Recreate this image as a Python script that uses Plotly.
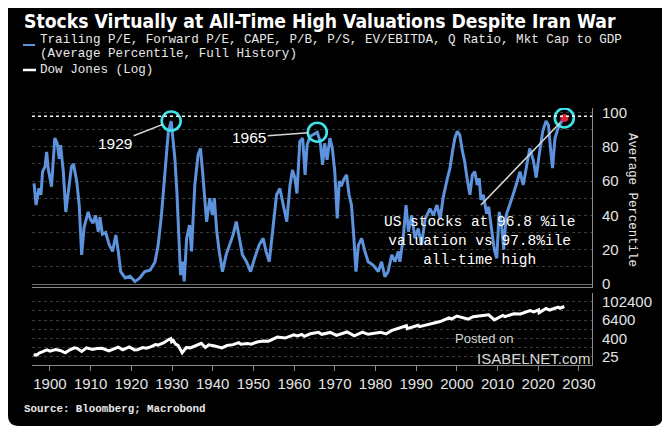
import plotly.graph_objects as go

# composite valuation: average percentile of 8 metrics over full history
pct_years = [1896.1, 1896.6, 1897.3, 1897.8, 1898.2, 1898.8, 1899.2, 1899.6, 1900.4, 1901.2,
             1901.8, 1902.3, 1902.6, 1903.3, 1903.9, 1904.5, 1905.3, 1905.8, 1906.6, 1907.2,
             1907.8, 1908.4, 1909.4, 1910.0, 1910.6, 1911.2, 1911.9, 1912.3, 1912.9, 1913.7,
             1914.6, 1915.4, 1916.2, 1916.8, 1917.4, 1918.5, 1919.7, 1920.9, 1922.1, 1923.3,
             1924.6, 1925.8, 1926.6, 1927.4, 1928.3, 1929.1, 1929.8, 1930.3, 1930.7, 1931.2,
             1931.5, 1932.1, 1932.6, 1933.0, 1933.6, 1934.3, 1934.8, 1935.6, 1936.4, 1937.0,
             1937.6, 1938.5, 1939.3, 1939.9, 1940.4, 1941.0, 1941.6, 1942.4, 1943.3, 1944.1,
             1945.0, 1945.8, 1946.5, 1947.3, 1948.3, 1949.3, 1950.3, 1951.4, 1952.4, 1953.1,
             1953.9, 1954.9, 1955.7, 1956.5, 1957.4, 1958.2, 1959.0, 1959.6, 1960.2, 1960.7,
             1961.4, 1962.1, 1962.7, 1963.2, 1963.9, 1964.7, 1965.7, 1966.4, 1967.0, 1967.5,
             1968.1, 1968.8, 1969.4, 1970.0, 1970.6, 1971.1, 1971.6, 1972.2, 1972.9, 1973.5,
             1974.1, 1974.7, 1975.2, 1975.8, 1976.6, 1977.4, 1978.2, 1979.4, 1980.7, 1981.5,
             1982.3, 1983.1, 1984.0, 1984.8, 1985.6, 1986.0, 1986.8, 1987.5, 1988.1, 1988.9,
             1989.7, 1990.5, 1991.3, 1992.2, 1993.4, 1994.2, 1995.1, 1995.9, 1996.6, 1997.5,
             1998.3, 1998.9, 1999.5, 2000.1, 2000.7, 2001.4, 2001.9, 2002.5, 2003.2, 2003.8,
             2004.4, 2005.0, 2005.5, 2005.9, 2006.5, 2007.3, 2007.8, 2008.4, 2008.9, 2009.2,
             2009.8, 2010.4, 2010.9, 2011.5, 2012.1, 2013.0, 2013.8, 2014.6, 2015.5, 2016.3,
             2017.1, 2017.9, 2018.8, 2019.5, 2020.2, 2021.1, 2021.9, 2022.5, 2023.0, 2023.5,
             2024.1, 2024.9, 2025.5, 2026.4]
pct_values = [58.7, 46, 55.8, 52, 65.5, 68.4, 77, 67, 56.7, 85,
              82, 73, 81, 65.5, 42, 52, 68.4, 70, 59.7, 46,
              17, 33, 42, 37.5, 35.5, 40, 30.5, 39, 29, 30,
              22.7, 19, 28.6, 19, 7.2, 3.5, 4.5, 1.4, 3.5, 7.2,
              8, 12.7, 22.7, 40, 65.5, 88.8, 95, 84.5, 73.3, 53.8,
              36.3, 5.2, 13, 1.5, 26.6, 34.4, 19, 57.7, 75.2, 79,
              63, 36.3, 50, 40.4, 50, 30.5, 19, 7.2, 17, 22.7,
              28.6, 36.4, 26.6, 17, 13, 7.2, 15, 22.7, 26.6, 19,
              13, 36.3, 52, 55.7, 46, 36.3, 57.7, 66.5, 61.6, 52.8,
              83, 85, 63.6, 81, 86, 86.9, 88.5, 83, 69.4, 82,
              72.4, 85, 79, 65.5, 38.3, 60, 57, 61, 63.6, 52,
              46, 26.6, 7.2, 22.7, 26.6, 19, 13, 11, 7.2, 13,
              4.3, 7.2, 17, 13, 19, 13, 26.6, 46, 30.5, 40,
              26.6, 32.4, 22.7, 38, 44, 40, 46, 38, 50, 60,
              67.5, 77, 85, 89, 87, 77, 71.5, 61.6, 52, 63.6,
              65.5, 57.7, 61.6, 49, 52, 41, 45, 34, 25.7, 20,
              15, 42, 36, 20, 40, 46, 52, 58, 65.5, 57.7,
              69, 79, 72, 62, 75, 89, 95, 92.7, 79, 67.5,
              85, 91, 94, 96.8]

# Dow Jones Industrial Average (log scale panel)
dow_years = [1896.0, 1896.7, 1897.5, 1898.5, 1899.3, 1900.0, 1900.8, 1901.4, 1902.5, 1903.8,
             1904.8, 1906.0, 1906.7, 1907.8, 1909.0, 1910.5, 1911.5, 1912.8, 1914.5, 1915.5,
             1916.8, 1917.9, 1919.5, 1920.8, 1921.5, 1922.8, 1923.7, 1924.9, 1925.9, 1926.5,
             1927.9, 1928.9, 1929.7, 1929.9, 1930.3, 1930.9, 1931.5, 1932.5, 1933.5, 1934.5,
             1935.9, 1937.2, 1938.2, 1939.0, 1940.5, 1942.3, 1943.5, 1945.0, 1946.4, 1946.9,
             1948.5, 1949.5, 1950.9, 1952.5, 1953.7, 1955.9, 1957.8, 1959.9, 1960.8, 1961.9,
             1962.5, 1964.0, 1966.0, 1966.8, 1968.9, 1970.4, 1973.0, 1974.8, 1976.8, 1978.2,
             1981.3, 1982.6, 1983.9, 1987.6, 1987.8, 1990.5, 1990.8, 1993.0, 1995.9, 1998.0,
             1998.7, 2000.0, 2001.7, 2002.8, 2004.0, 2007.8, 2009.2, 2010.5, 2011.3, 2011.8,
             2014.0, 2015.6, 2018.0, 2018.9, 2020.1, 2020.2, 2021.9, 2022.8, 2024.0, 2024.9,
             2025.3, 2026.4]
dow_values = [34, 32, 45, 55, 70, 58, 68, 75, 64, 45,
              68, 96, 88, 55, 95, 75, 85, 90, 60, 80,
              105, 70, 110, 70, 72, 100, 90, 115, 155, 145,
              200, 300, 381, 240, 290, 165, 140, 45, 100, 95,
              145, 190, 100, 150, 125, 95, 135, 155, 210, 165,
              185, 165, 230, 270, 260, 485, 420, 680, 570, 730,
              540, 800, 990, 740, 980, 630, 1050, 580, 1010, 740,
              1000, 780, 1280, 2700, 1740, 2900, 2370, 3400, 5100, 9000,
              7500, 11700, 8300, 7300, 10500, 14150, 6550, 10000, 12800, 10650,
              16500, 16000, 26600, 22000, 29500, 19000, 36500, 29000, 38000, 45000,
              38000, 49500]

circle_years = [1929.8, 1965.7, 2026.4]
current_pct = 96.8
ath_pct = 97.8

pct_ticks = [0, 20, 40, 60, 80, 100]
pct_minor = [10, 30, 50, 70, 90]
dow_ticks = [25, 400, 6400, 102400]
dow_minor = [100, 1600, 25600]
year_ticks = [1900, 1910, 1920, 1930, 1940, 1950, 1960, 1970, 1980, 1990, 2000, 2010, 2020, 2030]

# the page adds an 8px white margin round the figure, so layout is planned in page pixels
OFF = 8
W, H = 662, 424
L, R, T, B = 24, 78, 100, 67
PW, PH = W - L - R, H - T - B


def px(x):
    return (x - OFF - L) / PW


def py(y):
    return (H - B - (y - OFF)) / PH


circle_vals = [pct_values[pct_years.index(y)] for y in circle_years]

GRID = '#3a3a3a'
AXIS = '#8a8a8a'
TICKC = '#e4e4e4'
BLUE = '#5d92dc'
MONO = 'Liberation Mono, DejaVu Sans Mono, monospace'
SANS = 'Liberation Sans, Arial, sans-serif'

fig = go.Figure()
fig.add_trace(go.Scatter(x=pct_years, y=pct_values, mode='lines',
                         line=dict(color=BLUE, width=3),
                         xaxis='x2', yaxis='y', showlegend=False))
fig.add_trace(go.Scatter(x=dow_years, y=dow_values, mode='lines',
                         line=dict(color='white', width=3),
                         xaxis='x', yaxis='y2', showlegend=False))
fig.add_trace(go.Scatter(x=[pct_years[-1]], y=[pct_values[-1]], mode='markers',
                         marker=dict(color='#d8263a', size=8),
                         xaxis='x2', yaxis='y', showlegend=False))
fig.add_trace(go.Scatter(x=circle_years, y=circle_vals, mode='markers',
                         marker=dict(symbol='circle-open', size=19, color='#3fe3ea',
                                     line=dict(width=2.6)),
                         xaxis='x2', yaxis='y', showlegend=False))

# black card, square top corners, rounded bottom corners
x0, x1, y0, y1 = px(8), px(663), py(426), py(8)
rx, ry = 11 / PW, 11 / PH
card = (f"M {x0},{y1} L {x1},{y1} "
        f"L {x1},{y0 + ry} Q {x1},{y0} {x1 - rx},{y0} L {x0 + rx},{y0} "
        f"Q {x0},{y0} {x0},{y0 + ry} Z")
fig.add_shape(type='path', path=card, xref='paper', yref='paper',
              fillcolor='black', line=dict(width=0), layer='below')

# all-time-high dashed line
fig.add_shape(type='line', xref='paper', yref='y', x0=0, x1=1, y0=ath_pct, y1=ath_pct,
              line=dict(color='white', width=1.6, dash='3px,3px'))

# legend keys
fig.add_shape(type='line', xref='paper', yref='paper', x0=px(23), x1=px(35), y0=py(45), y1=py(45),
              line=dict(color=BLUE, width=2))
fig.add_shape(type='line', xref='paper', yref='paper', x0=px(23), x1=px(36), y0=py(70), y1=py(70),
              line=dict(color='white', width=2.5))

# pointer from the text box to the latest reading
fig.add_shape(type='line', xref='x2', yref='y', x0=2005.9, y0=46, x1=2025.3, y1=93.9,
              line=dict(color='#d8d8d8', width=1.5))

ann = [
    dict(text='<b>Stocks Virtually at All-Time High Valuations Despite Iran War</b>',
         x=px(22), y=py(21.5), xanchor='left', yanchor='middle',
         font=dict(family='DejaVu Sans Condensed, Liberation Sans Narrow, sans-serif', size=19.2, color='white')),
    dict(text='Trailing P/E, Forward P/E, CAPE, P/B, P/S, EV/EBITDA, Q Ratio, Mkt Cap to GDP',
         x=px(38), y=py(40), xanchor='left', yanchor='middle',
         font=dict(family=MONO, size=12.6, color='#e8e8e8')),
    dict(text='(Average Percentile, Full History)',
         x=px(38), y=py(54), xanchor='left', yanchor='middle',
         font=dict(family=MONO, size=12.6, color='#e8e8e8')),
    dict(text='Dow Jones (Log)',
         x=px(38), y=py(70), xanchor='left', yanchor='middle',
         font=dict(family=MONO, size=12.6, color='#e8e8e8')),
    dict(text='<b>Source: Bloomberg; Macrobond</b>',
         x=px(22), y=py(409), xanchor='left', yanchor='middle',
         font=dict(family=MONO, size=10.8, color='#e8e8e8')),
    dict(text='Average Percentile', textangle=90,
         x=px(632), y=py(200), xanchor='center', yanchor='middle',
         font=dict(family=MONO, size=12.4, color='#e4e4e4')),
    dict(text=f'US stocks at {current_pct} %ile<br>valuation vs {ath_pct}%ile<br>all-time high',
         x=px(479), y=py(241), xanchor='center', yanchor='middle', align='center',
         font=dict(family=MONO, size=14.5, color='white')),
    dict(text='Posted on', x=px(484), y=py(338), xanchor='center', yanchor='middle',
         font=dict(family=SANS, size=13, color='#d8d8d8')),
    dict(text='ISABELNET.com', x=px(533), y=py(358), xanchor='center', yanchor='middle',
         font=dict(family=SANS, size=15, color='#d8d8d8')),
]
for a in ann:
    a.setdefault('xref', 'paper')
    a.setdefault('yref', 'paper')
    a['showarrow'] = False
    fig.add_annotation(**a)

# year call-outs for the circled peaks
for yr, val, lab, ax, ay in [(circle_years[0], circle_vals[0], '1929', -56, 22),
                             (circle_years[1], circle_vals[1], '1965', -68, 5)]:
    fig.add_annotation(x=yr, y=val, xref='x2', yref='y', text=lab,
                       showarrow=True, arrowhead=0, arrowwidth=1.5, arrowcolor='#d8d8d8',
                       ax=ax, ay=ay, standoff=9,
                       font=dict(family=SANS, size=15.5, color='white'))

fig.update_layout(
    width=W, height=H,
    margin=dict(l=L, r=R, t=T, b=B),
    paper_bgcolor='white', plot_bgcolor='rgba(0,0,0,0)',
    xaxis=dict(domain=[0, 1], anchor='y2', range=[1895.6, 2033.2],
               tickvals=year_ticks, ticks='outside', ticklen=5, tickcolor=AXIS,
               showline=True, linecolor=AXIS, showgrid=False, zeroline=False,
               tickfont=dict(family=SANS, size=15, color=TICKC)),
    xaxis2=dict(domain=[0, 1], anchor='y', matches='x', showticklabels=False,
                showline=True, linecolor=AXIS, showgrid=False, zeroline=False, ticks=''),
    yaxis=dict(domain=[0.3035, 1], anchor='x2', side='right', range=[-1.75, 102.6],
               tickvals=pct_ticks, showline=True, linecolor=AXIS, ticks='',
               showgrid=True, gridcolor=GRID, griddash='dot', gridwidth=1,
               zeroline=True, zerolinecolor='#6a6a6a', zerolinewidth=1,
               minor=dict(tickvals=pct_minor, showgrid=True, gridcolor=GRID, griddash='dot'),
               ticklabelstandoff=6,
               tickfont=dict(family=SANS, size=15, color=TICKC)),
    yaxis2=dict(domain=[0, 0.2802], anchor='x', side='right', type='log',
                range=[0.853, 5.582], tickvals=dow_ticks, ticktext=[str(v) for v in dow_ticks],
                showline=True, linecolor=AXIS, ticks='',
                showgrid=True, gridcolor=GRID, griddash='dot', gridwidth=1, zeroline=False,
                minor=dict(tickvals=dow_minor, showgrid=True, gridcolor=GRID, griddash='dot'),
                ticklabelstandoff=6,
                tickfont=dict(family=SANS, size=15, color=TICKC)),
)

fig.write_html("out.html")
